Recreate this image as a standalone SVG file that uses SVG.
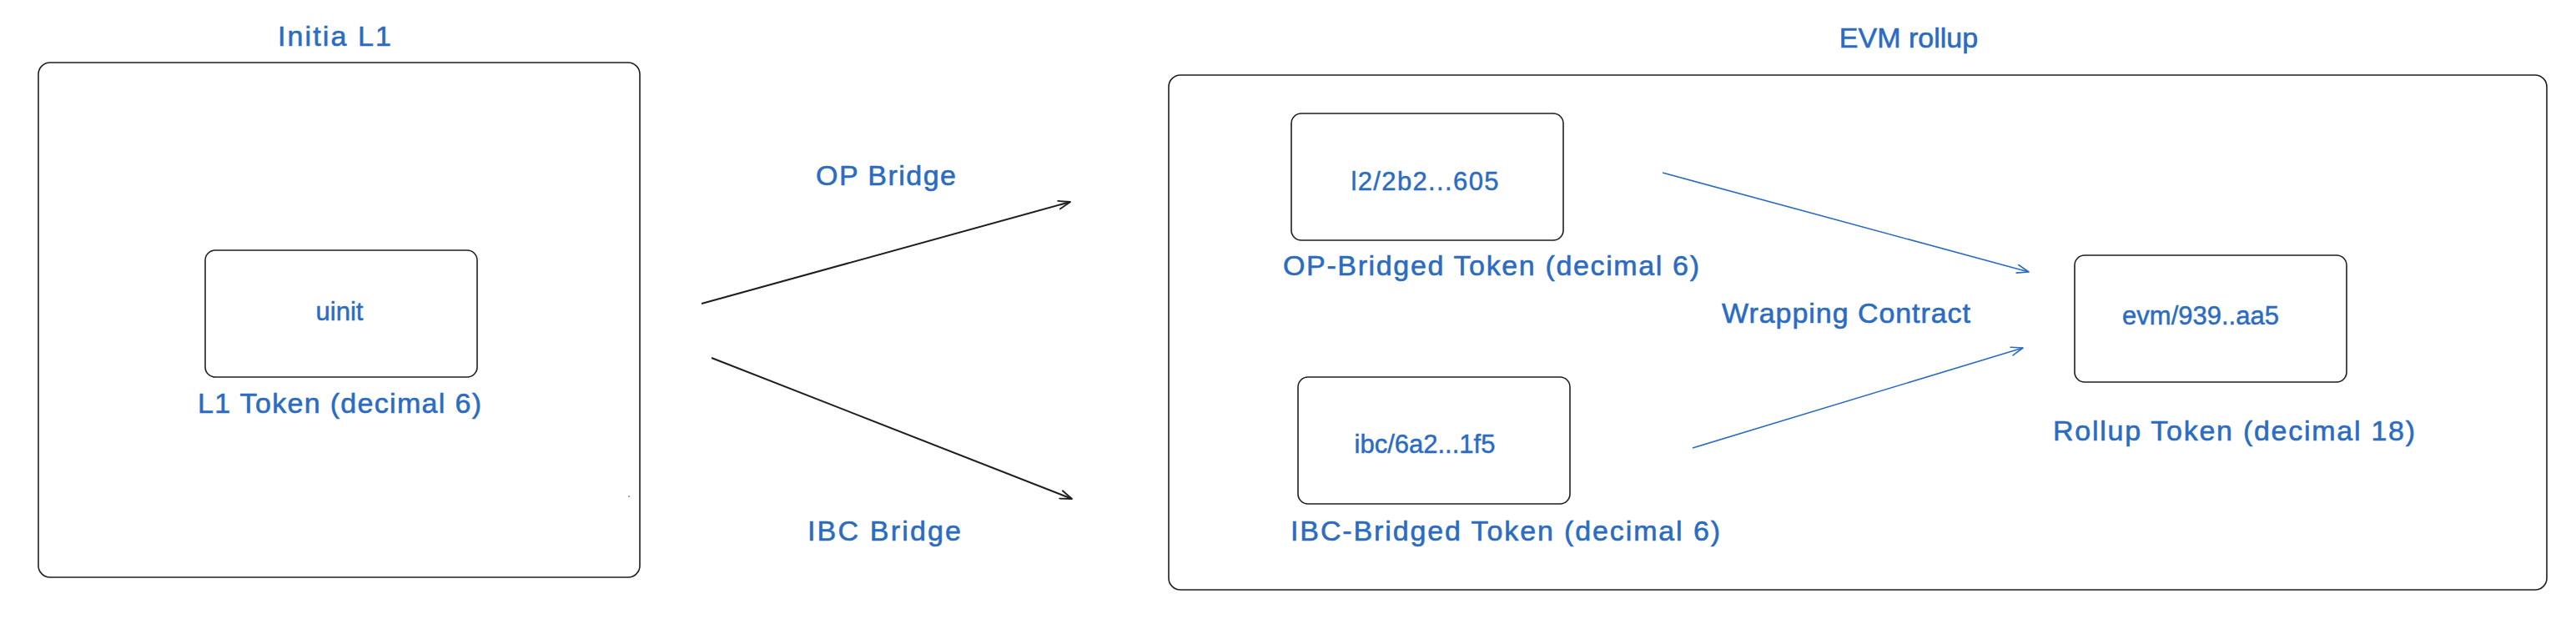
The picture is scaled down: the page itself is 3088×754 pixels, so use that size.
<svg xmlns="http://www.w3.org/2000/svg" width="3088" height="754" viewBox="0 0 3088 754">
  <style>
    .frame { fill: none; stroke: #1e1e1e; stroke-width: 1.6; }
    .node { fill: #ffffff; stroke: #1e1e1e; stroke-width: 1.6; }
    .t { font-family: "Liberation Sans", Arial, sans-serif; font-size: 34px; fill: #2b6cc0; stroke: #2b6cc0; stroke-width: 0.6; text-anchor: middle; }
    .tl { font-family: "Liberation Sans", Arial, sans-serif; font-size: 34px; fill: #2b6cc0; stroke: #2b6cc0; stroke-width: 0.6; text-anchor: start; }
    .ts { font-family: "Liberation Sans", Arial, sans-serif; font-size: 31px; fill: #2b6cc0; stroke: #2b6cc0; stroke-width: 0.5; text-anchor: middle; }
    .bridge { fill: none; stroke: #1e1e1e; stroke-width: 2; }
    .wrap { fill: none; stroke: #2b6cc0; stroke-width: 1.6; }
  </style>
  <defs>
    <marker id="arrowBlack" viewBox="0 0 16 12" refX="15" refY="6" markerWidth="16" markerHeight="12" markerUnits="userSpaceOnUse" orient="auto">
      <path d="M1,1 L15,6 L1,11" fill="none" stroke="#1e1e1e" stroke-width="1.8" stroke-linecap="round" stroke-linejoin="round"/>
    </marker>
    <marker id="arrowBlue" viewBox="0 0 16 12" refX="15" refY="6" markerWidth="16" markerHeight="12" markerUnits="userSpaceOnUse" orient="auto">
      <path d="M1,1 L15,6 L1,11" fill="none" stroke="#2b6cc0" stroke-width="1.6" stroke-linecap="round" stroke-linejoin="round"/>
    </marker>
  </defs>
  <rect width="3088" height="754" fill="#ffffff"/>

  <g id="initia-l1">
    <rect class="frame" x="46" y="75" width="721" height="617" rx="14"/>
    <text class="t" x="401" y="55" textLength="136">Initia L1</text>
    <circle cx="754" cy="595" r="1" fill="#888888"/>
  </g>

  <g id="l1-token">
    <rect class="node" x="246" y="300" width="326" height="152" rx="12"/>
    <text class="ts" x="407" y="384">uinit</text>
    <text class="t" x="407" y="495" textLength="340">L1 Token (decimal 6)</text>
  </g>

  <g id="evm-rollup">
    <rect class="frame" x="1401" y="90" width="1652" height="617" rx="14"/>
    <text class="t" x="2288" y="57">EVM rollup</text>
  </g>

  <g id="op-token">
    <rect class="node" x="1548" y="136" width="326" height="152" rx="12"/>
    <text class="ts" x="1708" y="228" textLength="177">l2/2b2...605</text>
    <text class="tl" x="1538" y="330" textLength="499">OP-Bridged Token (decimal 6)</text>
  </g>

  <g id="ibc-token">
    <rect class="node" x="1556" y="452" width="326" height="152" rx="12"/>
    <text class="ts" x="1708" y="543">ibc/6a2...1f5</text>
    <text class="tl" x="1547" y="648" textLength="515">IBC-Bridged Token (decimal 6)</text>
  </g>

  <g id="rollup-token">
    <rect class="node" x="2487" y="306" width="326" height="152" rx="12"/>
    <text class="ts" x="2638" y="389">evm/939..aa5</text>
    <text class="t" x="2678" y="528" textLength="434">Rollup Token (decimal 18)</text>
  </g>

  <g id="connectors">
    <line class="bridge" x1="841" y1="364" x2="1283" y2="242" marker-end="url(#arrowBlack)"/>
    <line class="bridge" x1="853" y1="429" x2="1285" y2="598" marker-end="url(#arrowBlack)"/>
    <line class="wrap" x1="1993" y1="207" x2="2432" y2="326" marker-end="url(#arrowBlue)"/>
    <line class="wrap" x1="2029" y1="537" x2="2425" y2="417" marker-end="url(#arrowBlue)"/>
    <text class="t" x="1062" y="222" textLength="168">OP Bridge</text>
    <text class="t" x="1060" y="648" textLength="184">IBC Bridge</text>
    <text class="t" x="2213" y="387" textLength="298">Wrapping Contract</text>
  </g>
</svg>
